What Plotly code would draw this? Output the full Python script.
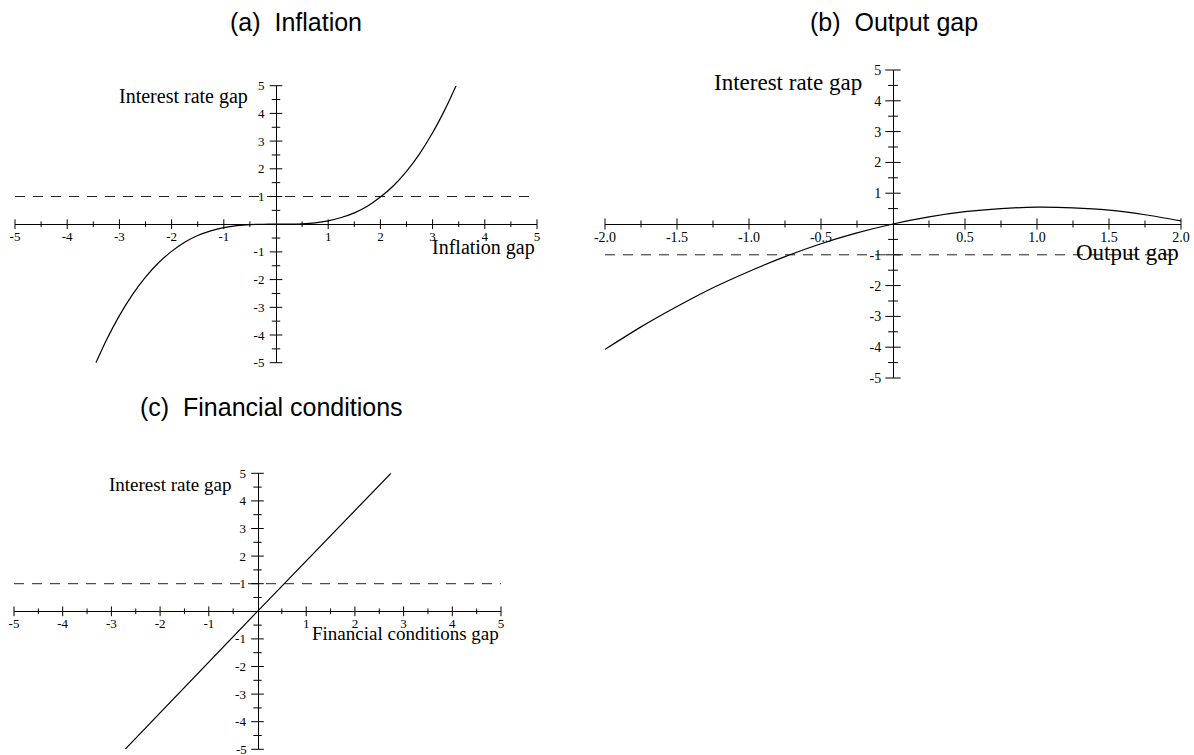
import plotly.graph_objects as go

W, H = 1194, 755

# ---------------- data ----------------
# (a) Inflation
infl_x = [-3.45, -3.25, -3.0, -2.75, -2.5, -2.25, -2.0, -1.75, -1.5, -1.25, -1.0, -0.75, -0.5, -0.25, 0.0,
          0.25, 0.5, 0.75, 1.0, 1.25, 1.5, 1.75, 2.0, 2.25, 2.5, 2.75, 3.0, 3.25, 3.45]
infl_y = [-5.0, -4.19, -3.3, -2.54, -1.91, -1.39, -0.98, -0.65, -0.41, -0.24, -0.122, -0.05, -0.015, -0.002, 0.0,
          0.002, 0.015, 0.05, 0.122, 0.24, 0.41, 0.65, 0.98, 1.39, 1.91, 2.54, 3.3, 4.19, 5.0]
# (b) Output gap
out_x = [-2.0, -1.75, -1.5, -1.25, -1.0, -0.75, -0.5, -0.25, 0.0, 0.25, 0.5, 0.75, 1.0, 1.25, 1.5, 1.75, 2.0]
out_y = [-4.07, -3.34, -2.68, -2.07, -1.54, -1.06, -0.64, -0.29, 0.0, 0.23, 0.40, 0.50, 0.545, 0.525, 0.45, 0.30, 0.10]
# (c) Financial conditions
fin_x = [-2.72, 0.0, 2.74]
fin_y = [-5.0, 0.0, 5.0]

# threshold (dashed) levels
infl_thr = 1.0
out_thr = -1.0
fin_thr = 1.0

# ticks
ab_x_major = [-5, -4, -3, -2, -1, 1, 2, 3, 4, 5]
ab_x_minor = [-4.5, -3.5, -2.5, -1.5, -0.5, 0.5, 1.5, 2.5, 3.5, 4.5]
y_major = [-5, -4, -3, -2, -1, 1, 2, 3, 4, 5]
y_minor = [-4.5, -3.5, -2.5, -1.5, -0.5, 0.5, 1.5, 2.5, 3.5, 4.5]
b_x_major = [-2.0, -1.5, -1.0, -0.5, 0.5, 1.0, 1.5, 2.0]
b_x_labels = ["-2.0", "-1.5", "-1.0", "-0.5", "0.5", "1.0", "1.5", "2.0"]
b_x_minor = [-1.75, -1.25, -0.75, -0.25, 0.25, 0.75, 1.25, 1.75]

titles = ["(a)  Inflation", "(b)  Output gap", "(c)  Financial conditions"]
ylabel = "Interest rate gap"
xlabels = ["Inflation gap", "Output gap", "Financial conditions gap"]

# ---------------- layout geometry (page pixels) ----------------
panels = {
    "a": dict(xr=[-5, 5], px=(15, 537), py=(85.7, 362.7)),
    "b": dict(xr=[-2, 2], px=(605, 1181), py=(70, 378)),
    "c": dict(xr=[-5, 5], px=(14, 501), py=(473.3, 749.3)),
}

SERIF = "Liberation Serif, Times New Roman, serif"
SANS = "Liberation Sans, Arial, sans-serif"


def fx(px):
    return px / W


def fy(py):
    return 1 - py / H


fig = go.Figure()


def add_panel(key, ax_id, curve_x, curve_y, thr, xmaj, xlab, xmin, tickfs, xtick_sz, ytick_sz):
    p = panels[key]
    xa = "x" if ax_id == 1 else f"x{ax_id}"
    ya = "y" if ax_id == 1 else f"y{ax_id}"
    x0, x1 = p["xr"]
    fig.add_trace(go.Scatter(x=[x0, x1], y=[thr, thr], mode="lines",
                             line=dict(color="#222", width=1, dash="10px,8px"),
                             xaxis=xa, yaxis=ya, hoverinfo="skip"))
    fig.add_trace(go.Scatter(x=xmaj, y=[0] * len(xmaj), mode="markers",
                             marker=dict(symbol="line-ns", size=xtick_sz[0],
                                         line=dict(color="black", width=1)),
                             cliponaxis=False, xaxis=xa, yaxis=ya, hoverinfo="skip"))
    fig.add_trace(go.Scatter(x=xmin, y=[0] * len(xmin), mode="markers",
                             marker=dict(symbol="line-ns", size=xtick_sz[1],
                                         line=dict(color="black", width=1)),
                             cliponaxis=False, xaxis=xa, yaxis=ya, hoverinfo="skip"))
    fig.add_trace(go.Scatter(x=[0] * len(y_major), y=y_major, mode="markers",
                             marker=dict(symbol="line-ew", size=ytick_sz[0],
                                         line=dict(color="black", width=1)),
                             cliponaxis=False, xaxis=xa, yaxis=ya, hoverinfo="skip"))
    fig.add_trace(go.Scatter(x=[0] * len(y_minor), y=y_minor, mode="markers",
                             marker=dict(symbol="line-ew", size=ytick_sz[1],
                                         line=dict(color="black", width=1)),
                             cliponaxis=False, xaxis=xa, yaxis=ya, hoverinfo="skip"))
    fig.add_trace(go.Scatter(x=curve_x, y=curve_y, mode="lines",
                             line=dict(color="black", width=1.2, shape="spline", smoothing=0.6),
                             xaxis=xa, yaxis=ya, hoverinfo="skip"))

    zero_px = p["px"][0] + (0 - x0) / (x1 - x0) * (p["px"][1] - p["px"][0])
    zero_py = (p["py"][0] + p["py"][1]) / 2

    xkey = "xaxis" if ax_id == 1 else f"xaxis{ax_id}"
    ykey = "yaxis" if ax_id == 1 else f"yaxis{ax_id}"
    fig.update_layout(**{
        xkey: dict(domain=[fx(p["px"][0]), fx(p["px"][1])], range=[x0, x1], anchor="free",
                   position=fy(zero_py), automargin=False,
                   showline=True, linecolor="black", linewidth=1, showgrid=False, zeroline=False,
                   tickmode="array", tickvals=xmaj, ticktext=xlab, ticks="", ticklen=0,
                   tickfont=dict(family=SERIF, size=tickfs, color="black"),
                   ticklabelstandoff=0, fixedrange=True),
        ykey: dict(domain=[fy(p["py"][1]), fy(p["py"][0])], range=[-5, 5], anchor="free",
                   position=fx(zero_px), automargin=False,
                   showline=True, linecolor="black", linewidth=1, showgrid=False, zeroline=False,
                   tickmode="array", tickvals=y_major, ticktext=[str(v) for v in y_major], ticks="",
                   ticklen=0,
                   tickfont=dict(family=SERIF, size=tickfs, color="black"),
                   ticklabelstandoff=9, fixedrange=True),
    })


add_panel("a", 1, infl_x, infl_y, infl_thr, ab_x_major, [str(v) for v in ab_x_major], ab_x_minor,
          13, (7, 4), (9, 6))
add_panel("b", 2, out_x, out_y, out_thr, b_x_major, b_x_labels, b_x_minor,
          14, (8, 5), (11, 7))
add_panel("c", 3, fin_x, fin_y, fin_thr, ab_x_major, [str(v) for v in ab_x_major], ab_x_minor,
          13, (7, 4), (9, 6))

ann = []
for t, (cx, cy) in zip(titles, [(296, 22), (894, 22), (271, 407)]):
    ann.append(dict(text=t, x=fx(cx), y=fy(cy), xref="paper", yref="paper",
                    xanchor="center", yanchor="middle", showarrow=False,
                    font=dict(family=SANS, size=25, color="black")))
ann += [
    dict(text=ylabel, x=-0.5, y=4.62, xref="x", yref="y", xanchor="right", yanchor="middle",
         showarrow=False, font=dict(family=SERIF, size=20, color="black")),
    dict(text=xlabels[0], x=5, y=-0.85, xref="x", yref="y", xanchor="right", yanchor="middle",
         showarrow=False, font=dict(family=SERIF, size=20, color="black")),
    dict(text=ylabel, x=-0.2, y=4.6, xref="x2", yref="y2", xanchor="right", yanchor="middle",
         showarrow=False, font=dict(family=SERIF, size=23, color="black")),
    dict(text=xlabels[1], x=2.0, y=-0.92, xref="x2", yref="y2", xanchor="right", yanchor="middle",
         showarrow=False, font=dict(family=SERIF, size=23, color="black")),
    dict(text=ylabel, x=-0.5, y=4.6, xref="x3", yref="y3", xanchor="right", yanchor="middle",
         showarrow=False, font=dict(family=SERIF, size=19, color="black")),
    dict(text=xlabels[2], x=5, y=-0.82, xref="x3", yref="y3", xanchor="right", yanchor="middle",
         showarrow=False, font=dict(family=SERIF, size=19, color="black")),
    # lowest y tick label of panel (c) sits on the page edge; shown as an annotation
    dict(text=str(y_major[0]), x=0, y=y_major[0], xref="x3", yref="y3", xanchor="right",
         yanchor="middle", xshift=-9, showarrow=False,
         font=dict(family=SERIF, size=13, color="black")),
]

fig.update_layout(template="none", width=W, height=H,
                  margin=dict(l=0, r=0, t=0, b=0, pad=0, autoexpand=False),
                  paper_bgcolor="white", plot_bgcolor="white", showlegend=False,
                  annotations=ann)

fig.write_html("out.html", config={"displayModeBar": False},
               post_script="document.body.style.margin='0';document.body.style.overflow='hidden';")
